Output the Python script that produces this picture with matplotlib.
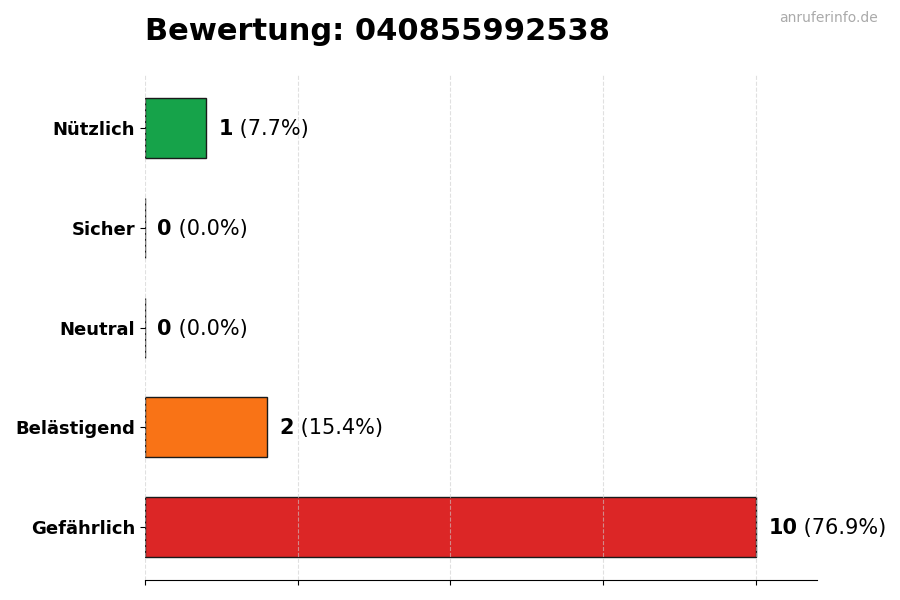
import matplotlib.pyplot as plt

categories = ['Nützlich', 'Sicher', 'Neutral', 'Belästigend', 'Gefährlich']
counts = [1, 0, 0, 2, 10]
colors = ['#16a34a', '#16a34a', '#9ca3af', '#f97316', '#dc2626']
phone = '040855992538'


def main():
    total = sum(counts)
    fig = plt.figure(figsize=(9, 6), dpi=100)
    ax = fig.add_axes([0.161, 0.033, 0.747, 0.842])

    ypos = list(range(len(categories)))[::-1]
    ax.barh(ypos, counts, height=0.6, color=colors, edgecolor='#1a1a1a',
            linewidth=1, zorder=1)
    ax.set_axisbelow(False)
    ax.grid(axis='x', linestyle='--', color='#cccccc', linewidth=0.8, alpha=0.6)

    for y, c in zip(ypos, counts):
        pct = c / total * 100
        t = ax.text(c + 0.2, y - 0.01, str(c), fontsize=15, fontweight='bold',
                    va='center', ha='left')
        ax.annotate(f' ({pct:.1f}%)', xy=(1, 0), xycoords=t, va='bottom',
                    ha='left', fontsize=15)

    ax.set_xlim(0, 11)
    ax.set_xticks([0, 2.5, 5, 7.5, 10])
    ax.set_xticklabels([])
    ax.set_yticks(ypos)
    ax.set_yticklabels(categories, fontsize=13, fontweight='bold')
    for s in ['top', 'right', 'left']:
        ax.spines[s].set_visible(False)

    fig.text(0.161, 0.947, f'Bewertung: {phone}', fontsize=22,
             fontweight='bold', va='center', ha='left')
    fig.text(0.975, 0.97, 'anruferinfo.de', fontsize=10, color='#aaaaaa',
             va='center', ha='right')

    fig.savefig('out.png', dpi=100)


if __name__ == '__main__':
    main()
